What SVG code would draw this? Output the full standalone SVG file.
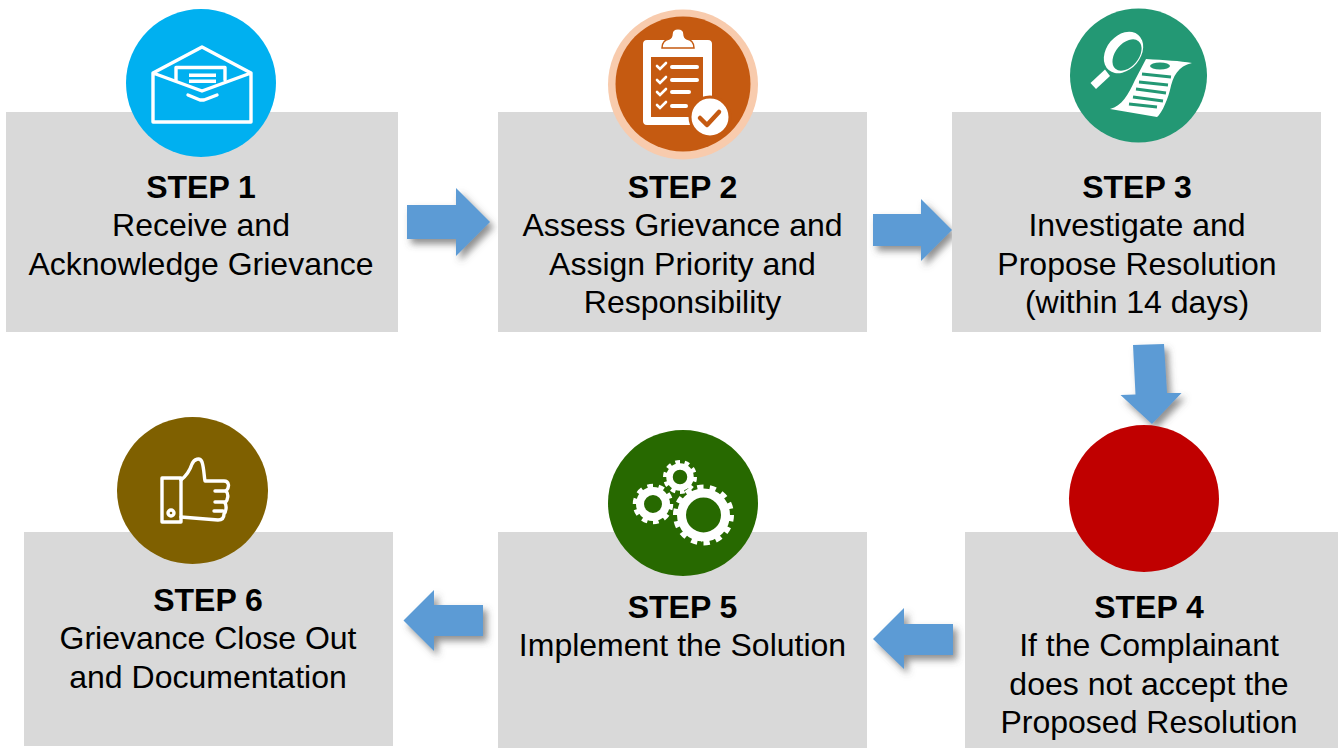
<svg xmlns="http://www.w3.org/2000/svg" width="1338" height="748" viewBox="0 0 1338 748">
<defs>
<filter id="sh" x="-30%" y="-30%" width="170%" height="170%"><feDropShadow dx="4" dy="5" stdDeviation="3.5" flood-color="#555" flood-opacity="0.65"/></filter>
</defs>
<style>
.box{fill:#d9d9d9}
.arrow{fill:#5b9bd5;filter:url(#sh)}
text{font-family:"Liberation Sans",Arial,sans-serif;font-size:32px;fill:#000;text-anchor:middle}
.t{font-weight:bold}
.ln{fill:none;stroke:#fff;stroke-width:3.4;stroke-linejoin:round;stroke-linecap:round}
.w{fill:#fff}
</style>
<rect width="1338" height="748" fill="#fff"/>
<g id="connectors">
<path class="arrow" d="M407,205H456V188L490,222L456,256V239H407Z"/>
<path class="arrow" d="M873,214H921V199L952,230L921,261V246H873Z"/>
<path class="arrow" d="M1133,345L1164,344L1167,393L1181.500,393L1152,424L1120.500,395L1135.500,394.500Z"/>
<path class="arrow" d="M953,624H904V608L873,639L904,669V655H953Z"/>
<path class="arrow" d="M483,605H434V590L403.500,620.500L434,651V636H483Z"/>
</g>
<g id="step1">
<rect class="box" x="6" y="112" width="392" height="220"/>
<ellipse cx="201" cy="83" rx="75" ry="74" fill="#00b0f0"/>
<path class="ln" d="M153,73V122H251V73L202,47ZM153,73L202,91L251,73"/>
<path class="ln" d="M176,80V67.500H225V80"/>
<path class="w" d="M189,73.500H216V77H189ZM189,79.500H216V83H189Z"/>
<path class="ln" d="M188,95L200,100H204L217,95"/>
<text class="t" x="201" y="198">STEP 1</text>
<text x="201" y="236">Receive and</text>
<text x="201" y="275">Acknowledge Grievance</text>
</g>
<g id="step2">
<rect class="box" x="498" y="112" width="369" height="220"/>
<circle cx="683" cy="84.500" r="75" fill="#f8cbad"/>
<circle cx="683" cy="84" r="67.500" fill="#c55a11"/>
<path class="w" d="M647,40H708C711,40 712,42 712,44V125H647C644,125 643,123 643,121V44C643,42 644,40 647,40Z"/>
<path fill="#c55a11" d="M651,57H703V117H651Z"/>
<path class="w" d="M662,48C662,43 664,40 669,39C671,38 672,37 672,34C672,27 684,27 684,34C684,37 685,38 687,39C692,40 694,43 694,48Z" stroke="#c55a11" stroke-width="1.500"/>
<g fill="none" stroke="#fff" stroke-width="2.600" stroke-linecap="round">
<path d="M657,66L660,69L666,63M657,80L660,83L666,77M657,92L660,95L666,89M657,105L660,108L666,102"/>
<path stroke-width="4" d="M672,67H697M672,80H697M672,92H689M672,106H686"/>
</g>
<circle cx="710" cy="117" r="20" fill="#fff" stroke="#c55a11" stroke-width="3"/>
<path d="M700,118L707,125L719,112" fill="none" stroke="#c55a11" stroke-width="4.500" stroke-linecap="round" stroke-linejoin="round"/>
<text class="t" x="682.500" y="198">STEP 2</text>
<text x="682.500" y="236">Assess Grievance and</text>
<text x="682.500" y="275">Assign Priority and</text>
<text x="682.500" y="313">Responsibility</text>
</g>
<g id="step3">
<rect class="box" x="952" y="112" width="369" height="220"/>
<ellipse cx="1138.500" cy="75.500" rx="68.500" ry="67" fill="#239874"/>
<ellipse cx="1123.500" cy="52.500" rx="23" ry="17" transform="rotate(-50 1123.500 52.500)" fill="#fff"/>
<ellipse cx="1127" cy="55" rx="18" ry="11.500" transform="rotate(-50 1127 55)" fill="#239874"/>
<path d="M1090.500,83L1105,69.500L1110,76L1096,89Z" fill="#fff"/>
<path class="w" d="M1146,59C1165,60 1180,61 1192,63C1178,66 1173,76 1170,90C1166,105 1160,115 1157,117L1110,109C1122,106 1128,95 1135,80Z"/>
<g fill="none" stroke="#239874" stroke-width="3.200">
<path d="M1142,74L1171,77M1139,82L1168,85M1136,89L1166,93M1133,97L1163,101M1129,104L1157,107"/>
</g>
<ellipse cx="1160" cy="66" rx="10" ry="3.500" fill="#239874"/>
<text class="t" x="1137" y="198">STEP 3</text>
<text x="1137" y="236">Investigate and</text>
<text x="1137" y="275">Propose Resolution</text>
<text x="1137" y="313">(within 14 days)</text>
</g>
<g id="step4">
<rect class="box" x="965" y="532" width="373" height="216"/>
<ellipse cx="1144" cy="498.500" rx="75" ry="73.500" fill="#c00000"/>
<text class="t" x="1149" y="618">STEP 4</text>
<text x="1149" y="656">If the Complainant</text>
<text x="1149" y="695">does not accept the</text>
<text x="1149" y="733">Proposed Resolution</text>
</g>
<g id="step5">
<rect class="box" x="498" y="532" width="369" height="216"/>
<ellipse cx="683" cy="503" rx="75" ry="73" fill="#276900"/>
<g fill="none" stroke="#fff">
<circle cx="703.500" cy="515" r="22" stroke-width="9"/>
<circle cx="703.500" cy="515" r="28" stroke-width="5" pathLength="28" stroke-dasharray="1 1"/>
<circle cx="653" cy="504" r="13" stroke-width="8"/>
<circle cx="653" cy="504" r="18" stroke-width="4.500" pathLength="20" stroke-dasharray="1 1"/>
<circle cx="680" cy="477" r="10.500" stroke-width="6.500"/>
<circle cx="680" cy="477" r="15" stroke-width="4" pathLength="20" stroke-dasharray="1 1"/>
</g>
<text class="t" x="682.500" y="618">STEP 5</text>
<text x="682.500" y="656">Implement the Solution</text>
</g>
<g id="step6">
<rect class="box" x="24" y="532" width="369" height="214"/>
<ellipse cx="192.500" cy="490.500" rx="75.500" ry="73.500" fill="#7f6000"/>
<g class="ln">
<rect x="162" y="478" width="19" height="44"/>
<circle cx="171" cy="513" r="3"/>
<path d="M181,480C186,476 190,470 192,464C194,459 200,457 202,462C204,468 204,476 205,481H224C229,481 230,487 226,491C229,494 228,500 225,503C227,506 226,512 224,514C224,518 222,520 218,520L181,517"/>
<path d="M215,491H226M215,502H225M214,511H223"/>
</g>
<text class="t" x="208" y="611">STEP 6</text>
<text x="208" y="649">Grievance Close Out</text>
<text x="208" y="688">and Documentation</text>
</g>
</svg>
